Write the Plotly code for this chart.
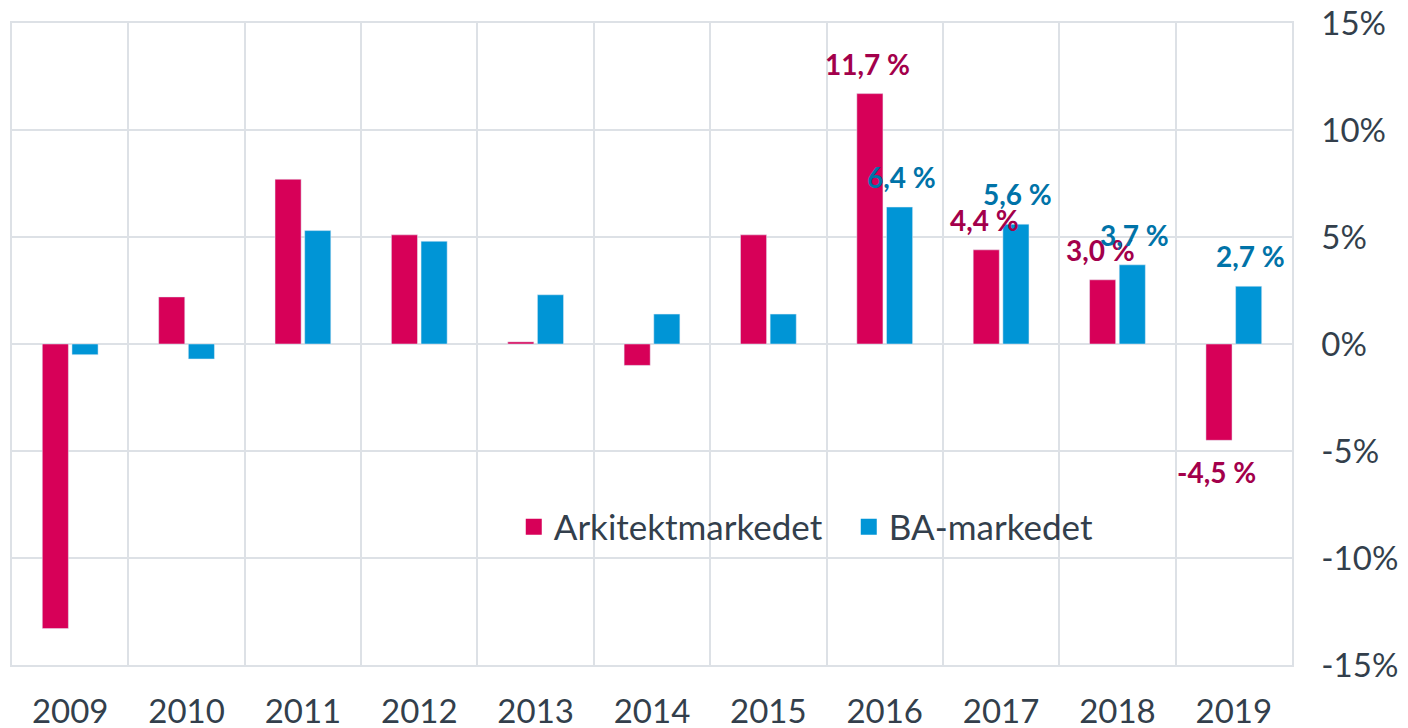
import plotly.graph_objects as go

years = [2009, 2010, 2011, 2012, 2013, 2014, 2015, 2016, 2017, 2018, 2019]
arkitekt = [-13.3, 2.2, 7.7, 5.1, 0.1, -1.0, 5.1, 11.7, 4.4, 3.0, -4.5]
ba = [-0.5, -0.7, 5.3, 4.8, 2.3, 1.4, 1.4, 6.4, 5.6, 3.7, 2.7]
label_years = [2016, 2017, 2018, 2019]

y_ticks = [-15, -10, -5, 0, 5, 10, 15]
y_text = ['-15%', '-10%', '-5%', '0%', '5%', '10%', '15%']

red = '#D70058'
blue = '#0095D6'
red_lbl = '#A3004B'
blue_lbl = '#0073A8'
grid = '#DDE1E6'
txt = '#333F4C'
font = 'Lato'

fig = go.Figure()
fig.add_trace(go.Bar(x=years, y=arkitekt, marker_color=red, showlegend=False))
fig.add_trace(go.Bar(x=years, y=ba, marker_color=blue, showlegend=False))

# legend entries with bigger squares
fig.add_trace(go.Scatter(x=[None], y=[None], mode='markers', name='Arkitektmarkedet',
                         marker=dict(symbol='square', size=20, color=red)))
fig.add_trace(go.Scatter(x=[None], y=[None], mode='markers', name='BA-markedet',
                         marker=dict(symbol='square', size=20, color=blue)))

def fmt(v):
    return ('%.1f %%' % v).replace('.', ',')

for i, yr in enumerate(years):
    if yr not in label_years:
        continue
    for vals, off, col in [(arkitekt, -0.145, red_lbl), (ba, 0.145, blue_lbl)]:
        v = vals[i]
        fig.add_annotation(x=yr + off, y=v, text='<b>%s</b>' % fmt(v), showarrow=False,
                           yshift=30 if v >= 0 else -32,
                           font=dict(family=font, size=28, color=col))

# page body adds an 8px offset, so the figure is a bit smaller than the window
fig.update_layout(
    width=1400, height=720,
    margin=dict(l=4, r=116, t=15, b=63),
    plot_bgcolor='white', paper_bgcolor='white',
    barmode='group', bargap=0.49, bargroupgap=0.12,
    font=dict(family=font, size=33, color=txt),
    legend=dict(orientation='h', x=0.392, y=0.215, xanchor='left', yanchor='middle',
                font=dict(size=35, color=txt), bgcolor='rgba(0,0,0,0)',
                itemwidth=30, tracegroupgap=0, entrywidth=290),
)
fig.update_xaxes(range=[2008.5, 2019.5], tickvals=years, showgrid=False, automargin=False,
                 showline=True, linecolor=grid, linewidth=1.5, mirror=True,
                 ticks='', ticklabelstandoff=17, ticklabeloverflow='allow',
                 minor=dict(tick0=2008.5, dtick=1, showgrid=True, gridcolor=grid, gridwidth=1.5))
fig.update_yaxes(range=[-15, 15], tickvals=y_ticks, ticktext=y_text, side='right', automargin=False,
                 showgrid=True, gridcolor=grid, gridwidth=1.5,
                 zeroline=True, zerolinecolor=grid, zerolinewidth=1.5,
                 showline=True, linecolor=grid, linewidth=1.5, mirror=True,
                 ticks='', ticklabelstandoff=21, ticklabeloverflow='allow',
                 tickfont=dict(size=33))

fig.write_html("out.html")
